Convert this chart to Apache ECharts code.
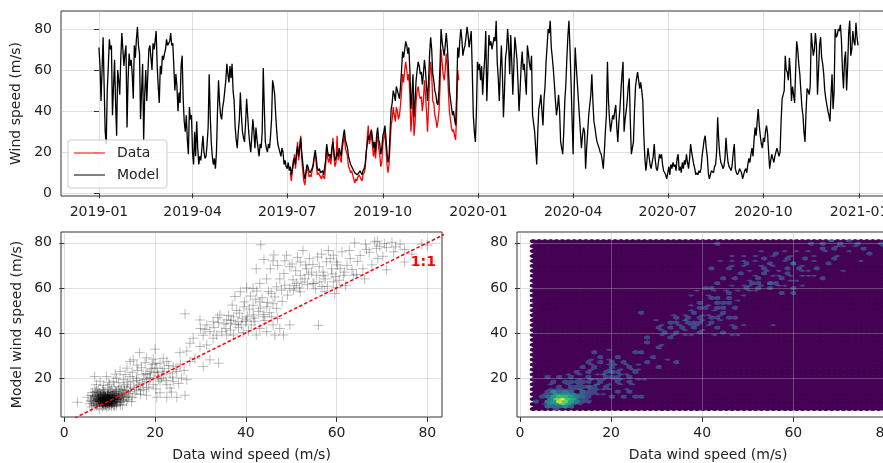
<!DOCTYPE html>
<html><head><meta charset="utf-8">
<script src="https://cdn.jsdelivr.net/npm/echarts@6/dist/echarts.min.js"></script>
<style>html,body{margin:0;padding:0;background:#fff;overflow:hidden}#c{width:900px;height:463px}</style>
</head><body><div id="c"></div>
<script>
// ---------------- DATA ----------------
const seriesStart = '2019-01-01';
const model2019 = [
 71,62,45,60,76,52,30,24,50,62,75,70,72,38,52,65,44,28,60,55,48,66,78,70,62,68,72,32,55,68,62,
 65,58,46,72,66,75,81,72,68,36,50,63,26,48,60,45,58,70,72,66,60,73,70,74,79,62,52,44,
 62,58,67,65,68,70,75,72,73,74,78,72,73,62,50,58,52,40,49,44,62,67,46,35,30,38,26,19,42,36,38,
 20,14,30,18,35,22,14,18,16,22,28,20,17,18,24,32,58,38,25,18,14,17,12,20,40,55,44,38,36,42,
 45,50,55,63,58,54,62,56,63,50,45,32,26,22,30,36,49,38,30,27,25,34,46,38,30,24,20,28,36,30,22,
 32,26,22,18,24,22,30,61,42,25,22,20,24,22,28,36,55,52,48,38,30,24,22,20,18,22,20,14,16,13,
 12,15,11,13,9,12,16,17,14,20,23,18,22,27,20,15,10,7,10,14,13,11,10,10,12,14,18,21,17,12,11,
 12,10,10,11,9,9,16,24,20,18,19,17,22,25,20,16,17,20,18,22,20,18,24,28,31,26,24,22,18,16,14,
 14,12,11,10,10,9,9,10,11,10,9,11,12,14,20,24,28,26,29,31,27,22,25,20,28,32,26,24,19,22,
 28,30,33,27,20,15,18,30,41,44,50,48,45,52,50,48,46,52,60,69,66,70,74,72,68,71,60,41,48,58,37,
 45,55,60,64,62,58,59,53,58,65,60,52,45,55,68,76,70,58,55,50,48,44,43,50,62,80,74,70,67,72,
 78,72,62,50,46,42,38,40,36,33,48,71,66,74,80,75,67,70,72,76,81,77,71,75,79,60,38,30,25,40,64
];
const model2020 = [
 60,63,55,62,48,58,66,79,45,60,77,72,74,70,73,76,74,84,64,56,45,60,72,58,37,50,66,70,80,72,58,
 77,64,48,62,76,71,65,54,40,50,62,69,60,63,55,48,72,68,63,60,67,38,34,30,22,14,30,41,44,
 48,40,33,46,52,64,72,80,78,84,71,66,60,53,45,38,42,48,40,25,22,19,30,45,53,66,77,84,70,54,36,
 19,50,71,62,54,46,38,30,22,28,32,30,12,22,30,38,38,48,58,45,35,32,28,25,25,22,20,19,16,12,
 20,30,38,64,45,36,30,34,38,36,40,43,32,25,35,41,50,58,64,30,36,40,45,52,56,35,19,22,25,40,52,
 56,59,55,51,54,50,45,28,17,11,16,22,18,14,12,12,18,24,16,12,11,15,19,17,19,14,11,11,9,7,
 10,13,9,14,12,15,13,14,11,17,19,11,13,10,15,12,16,14,19,15,12,17,24,20,17,14,12,9,10,9,11,
 10,12,18,22,26,28,22,18,10,7,9,11,11,10,13,14,20,37,26,19,15,14,12,13,17,27,20,15,13,12,11,
 14,20,24,12,10,9,10,12,11,10,7,9,11,12,10,14,17,15,19,22,18,26,32,28,35,41,33,28,24,22,
 27,25,30,33,29,20,12,16,19,17,15,18,20,22,20,18,20,35,46,48,50,67,60,59,55,66,58,45,52,48,44,
 60,74,70,63,58,50,42,38,30,25,40,51,50,48,52,78,72,67,70,78,72,48,60,72,76,66,63,58,50,46,
 43,40,38,35,48,58,41,50,80,76,77,80,79,82,75,60,51,65,69,50,62,78,84,67,70,79,74,72,83,76,72
];
const dataStart = '2019-07-04';
const dataValues = [
 10,6,11,14,19,12,18,25,16,21,28,17,11,6,4,9,13,11,8,9,8,11,13,17,20,14,9,10,
 10,8,7,9,8,7,14,23,17,15,18,14,20,27,18,13,15,28,16,20,17,15,22,25,28,22,20,18,13,12,10,
 11,9,7,5,7,6,8,9,8,7,6,9,10,12,19,27,33,24,26,29,23,18,22,17,25,28,22,19,13,15,
 24,27,30,22,14,10,14,24,33,36,42,38,35,42,40,36,38,43,50,58,54,60,64,60,55,58,48,30,38,47,28,
 34,45,50,52,48,46,47,40,45,55,48,40,30,42,56,64,58,45,44,38,36,32,35,40,52,70,64,58,55,60,
 68,62,50,40,36,32,30,31,28,26,38,60,55
];
const timeTickLabels = ['2019-01','2019-04','2019-07','2019-10','2020-01','2020-04','2020-07','2020-10','2021-01'];
const topSpeedTicks = [0,20,40,60,80];
const speedTicks = [0,20,40,60,80];
const modelSpeedTicks = [20,40,60,80];
// [data wind speed, model wind speed]
const obsVsModel = [
 [9.3,10.4],[9.6,10.6],[9.5,10.2],[9.8,10.8],[9.2,10.7],[9.7,10.3],[9.4,10.9],
 [8.6,10.0],[8.9,9.6],[8.4,10.5],[8.8,11.0],[10.3,10.2],[10.6,10.9],[10.1,11.3],[10.4,9.8],
 [9.0,9.2],[9.9,9.4],[8.3,9.1],[10.8,9.6],[11.2,10.4],[11.0,11.5],[9.6,11.8],[8.7,12.0],[10.3,12.2],
 [7.8,9.8],[7.6,10.8],[8.0,8.6],[9.2,8.4],[10.4,8.7],[11.5,9.2],[12.0,10.8],[11.8,12.2],[7.4,11.7],[8.2,12.8],[9.8,12.9],[10.9,13.1],
 [7.0,9.0],[6.8,10.2],[7.3,8.2],[8.6,7.8],[9.7,7.6],[11.0,8.2],[12.4,9.6],[12.6,11.6],[12.2,13.4],[11.3,14.0],[9.0,13.6],[7.9,13.2],[6.6,11.8],[6.4,8.8],
 [10.0,10.0],[9.1,11.5],[8.1,11.4],[10.9,12.0],[11.6,11.0],[8.5,9.0],[12.9,12.6],[13.2,11.2],[13.4,13.8],[7.2,12.6],
 [2.9,9.3],[5.2,11.5],[5.6,8.6],[7.1,7.8],[6.0,7.2],[5.8,10.0],[6.2,13.6],[6.7,15.2],[7.5,14.6],[8.6,14.9],[9.5,15.6],[10.4,14.8],[11.5,14.1],[12.6,15.0],[13.8,14.6],
 [14.5,14.1],[14.2,12.0],[15.0,11.4],[15.6,13.0],[13.7,9.8],[12.8,8.0],[14.8,9.6],[15.9,14.9],[17.4,14.9],[18.1,15.6],[16.4,16.6],[12.3,15.6],[13.8,17.1],[10.0,17.1],[7.9,18.6],
 [6.7,20.7],[7.1,17.1],[9.3,20.7],[8.6,16.8],[10.8,18.6],[11.5,20.0],[13.0,19.3],[14.5,20.7],[15.2,18.6],[16.6,17.1],[12.3,23.0],[13.8,24.4],[14.5,27.3],[11.0,16.2],[9.8,18.0],
 [20.0,32.8],[15.2,28.1],[16.6,31.3],[18.1,29.0],[21.1,26.6],[22.6,27.3],[24.0,25.0],[18.9,23.0],[20.4,24.4],[21.9,21.5],[23.3,22.2],[17.4,21.5],[15.9,20.0],[18.1,18.6],[19.6,17.1],
 [21.1,18.6],[22.6,17.1],[24.0,18.6],[25.8,20.0],[27.0,19.3],[23.3,15.6],[24.8,22.9],[20.4,11.5],[22.6,11.5],[24.8,11.5],[26.6,12.4],[21.1,13.5],[18.1,12.4],[19.0,20.2],[20.6,21.0],
 [17.0,24.6],[19.4,26.0],[16.2,23.4],[18.6,16.0],[20.2,15.2],[17.6,19.4],[22.0,24.2],[20.8,19.6],[16.8,14.4],[19.8,22.6],[21.6,23.0],[23.8,20.4],[25.2,17.6],[18.4,21.8],[20.0,26.6],
 [25.5,31.3],[27.0,32.0],[28.8,28.8],[30.6,25.1],[32.1,28.1],[34.0,26.6],[27.7,27.4],[26.6,48.5],[29.9,45.8],[31.4,43.6],[32.8,45.0],[34.3,48.0],[32.1,40.6],[30.6,39.0],[33.6,39.0],
 [34.7,40.6],[32.8,37.7],[28.4,37.7],[27.7,35.5],[29.9,34.0],[31.4,34.7],[35.8,39.1],[36.6,41.3],[30.0,42.0],[35.2,44.0],
 [38.8,58.3],[37.6,56.2],[39.7,53.8],[41.6,52.3],[43.1,53.8],[44.6,51.6],[46.0,53.0],[46.8,50.9],[45.7,47.2],[43.8,47.2],[41.6,48.0],[40.1,45.8],[38.3,45.0],[37.3,47.2],[35.8,45.8],
 [36.6,44.3],[39.0,43.6],[41.2,43.6],[43.1,42.0],[44.6,40.6],[42.3,39.1],[46.0,43.6],[47.5,42.0],[48.3,39.1],[49.7,43.6],[46.4,39.1],[37.3,39.1],[40.0,45.0],[39.2,46.6],[42.0,45.2],
 [40.6,41.0],[38.0,50.0],[40.8,50.6],[42.8,49.6],[44.2,45.6],[45.2,49.0],[36.2,47.8],[39.4,40.2],[47.0,46.4],[43.6,55.6],[41.0,56.4],[40.2,60.0],[42.4,58.6],[37.0,52.4],[56.0,43.4],
 [43.3,79.1],[45.4,68.5],[42.3,68.5],[44.6,64.0],[43.1,62.0],[41.6,59.8],[47.5,64.0],[46.8,60.5],[47.9,59.0],[46.0,72.0],[46.2,74.6],[44.0,72.6],[48.4,66.4],[45.6,57.6],[49.0,74.5],
 [49.7,69.4],[52.0,71.5],[54.0,73.0],[55.8,73.7],[53.4,68.5],[52.0,65.6],[53.0,64.0],[54.5,67.0],[51.2,62.0],[49.7,59.8],[48.6,61.2],[50.5,59.0],[52.0,58.3],[50.4,63.6],[51.0,67.6],
 [49.2,56.8],[48.0,54.0],[50.8,61.0],[53.6,61.4],[55.0,62.0],[52.6,76.6],[54.8,70.4],[50.2,70.6],[47.0,70.0],[51.8,60.0],
 [64.0,80.0],[66.4,79.4],[68.4,80.4],[69.5,78.5],[66.6,77.0],[71.0,78.0],[72.2,80.3],[74.0,79.4],[75.0,77.0],[72.6,76.0],[69.1,73.0],[71.0,68.0],[75.0,71.5],[78.8,79.4],[80.0,79.0],
 [66.2,64.0],[63.0,73.0],[63.7,65.6],[65.8,68.5],[62.3,70.0],[59.3,74.5],[58.2,76.6],[56.7,75.0],[60.0,71.5],[60.8,68.5],[58.9,68.5],[61.5,65.6],[57.5,64.0],[55.6,65.6],[56.3,62.7],
 [59.3,62.7],[59.6,57.5],[57.4,58.3],[54.8,62.0],[60.2,70.2],[59.0,66.2],[58.0,60.8],[60.6,63.4],[62.0,61.0],[57.0,67.0],[61.2,76.0],[67.8,70.2],[70.2,74.0],[76.6,75.0],[64.6,71.8],
 [7.8,6.3],[69.0,80.7]
];
// additional observation/model pairs: dense low-wind core and extra cloud points
const obsVsModelCore = [
 [9.3,10.4],[9.4,10.5],[9.5,10.6],[9.6,10.5],[9.7,10.7],[9.5,10.8],[9.4,10.3],[9.6,10.3],[9.8,10.6],
 [9.3,10.7],[9.5,10.4],[9.6,10.9],[9.4,10.8],[9.7,10.4],[9.2,10.6],[9.9,10.5],[9.5,10.5],[9.6,10.6],
 [9.0,9.7],[9.1,9.8],[8.9,9.9],[9.2,9.6],[9.0,9.9],[9.1,9.6],[8.8,9.8],[9.2,9.9],[9.0,9.6],[9.1,9.7],[8.9,9.7],[9.3,9.8],
 [10.0,9.7],[10.2,9.8],[10.1,9.9],[10.3,9.7],[10.0,9.9],[10.1,9.6],[10.2,9.7],[9.9,9.8],[10.4,9.8],
 [10.6,10.6],[10.5,10.7],[10.7,10.5],[10.8,10.7],[10.6,10.4],[10.5,10.5],[10.7,10.8],
 [8.5,10.6],[8.6,10.7],[8.4,10.5],[8.6,10.4],[8.7,10.8],[8.5,10.8],[8.3,10.7],[8.6,10.6],
 [9.0,11.4],[9.1,11.6],[8.9,11.5],[9.2,11.3],[9.0,11.7],[10.1,11.4],[10.0,11.6],[10.2,11.5],[10.3,11.3],
 [9.5,8.9],[9.6,8.8],[9.7,9.0],[9.4,9.1],[9.6,8.7],[9.5,12.3],[9.7,12.4],[9.6,12.2],
 [8.0,9.7],[8.1,9.9],[7.9,9.6],[8.2,9.8],[8.0,10.0],[7.8,9.8],[11.1,9.8],[11.2,9.6],[11.0,9.9],[11.3,9.7],
 [7.5,10.6],[7.6,10.5],[7.4,10.7],[7.7,10.8],[11.6,10.6],[11.7,10.5],[11.5,10.8],
 [8.5,8.9],[8.6,8.8],[8.4,9.0],[8.7,8.7],[10.6,8.9],[10.5,8.8],[10.7,9.0],
 [8.0,11.5],[8.1,11.4],[7.9,11.6],[11.1,11.5],[11.2,11.4],[11.0,11.6],
 [8.5,12.4],[8.6,12.3],[10.6,12.3],[10.7,12.4],[9.0,8.0],[9.1,8.1],[9.2,7.9],[10.1,8.0],[10.0,8.2],
 [6.5,9.5],[6.8,11.2],[7.0,12.0],[7.2,10.0],[7.0,8.4],[7.6,7.6],[8.2,8.0],[8.8,8.3],[9.9,8.2],[10.8,8.0],
 [11.6,8.6],[12.2,9.2],[12.5,10.4],[12.3,11.8],[12.0,12.6],[11.5,13.2],[10.6,13.6],[9.8,13.8],[8.8,13.2],[8.0,12.4],
 [7.4,12.9],[6.9,13.8],[6.2,10.8],[6.0,9.6],[5.9,12.4],[13.0,10.0],[13.6,11.6],[12.8,13.0],[13.2,14.6],[11.9,14.8],
 [10.2,14.2],[8.4,14.2],[7.2,14.0],[6.6,7.8],[8.4,7.4],[10.4,7.6],[11.4,7.8],[12.4,8.2],[14.0,10.6],[14.2,13.2],
 [8.8,12.6],[10.0,12.8],[11.2,12.6],[7.6,11.2],[12.0,11.2],[11.0,7.4],[9.4,7.2],[13.0,12.2],[7.8,13.6],[6.4,12.2]
];
const obsVsModelExtra = [
 [13.2,16.4],[14.0,18.2],[15.4,15.6],[16.0,19.0],[17.2,17.8],[18.8,19.8],[19.2,24.2],[20.6,22.4],[21.4,20.0],[22.4,19.0],[23.0,25.6],[24.6,24.0],[17.8,26.8],
 [16.0,25.8],[15.0,22.6],[13.4,21.6],[12.0,18.0],[11.2,21.8],[19.6,28.4],[21.8,28.8],[25.6,26.2],[26.4,23.4],[23.6,13.8],[16.8,12.8],[14.6,16.0],[18.0,22.0],
 [33.0,42.4],[34.0,44.6],[35.6,42.0],[36.8,45.6],[38.4,42.4],[38.6,48.8],[41.8,46.6],[43.2,51.0],[44.8,53.6],[46.4,56.0],[45.0,58.4],[42.2,55.0],[39.6,51.6],
 [37.8,43.8],[40.4,47.4],[44.0,48.2],[33.8,46.8],[31.0,41.6],
 [48.6,72.0],[51.4,73.6],[53.2,70.2],[56.2,69.4],[57.8,71.6],[58.6,73.0],[59.8,65.0],[61.8,67.0],[63.4,68.2],[64.4,66.0],[62.8,76.6],[65.2,74.4],[67.2,75.8],
 [68.8,77.4],[70.6,79.6],[73.0,78.2],[55.4,59.6],[53.8,66.0],[52.4,62.6],[56.8,60.6],[60.0,60.2],[57.2,65.4]
];
const oneToOne = [[0,0],[90,90]];
const hexGridSize = 60;

// ---------------- HELPERS ----------------
const FONT = 'DejaVu Sans';
const TXT = '#222';
const DAY = 86400000;
const t0 = Date.parse(seriesStart + 'T00:00:00Z');
const dayIndex = s => Math.round((Date.parse(s + 'T00:00:00Z') - t0) / DAY);
const modelValues = model2019.concat(model2020);
const modelSeries = modelValues.map((v, i) => [i, v]);
const d0 = dayIndex(dataStart);
const dataSeries = dataValues.map((v, i) => [d0 + i, v]);
const timeTickDays = timeTickLabels.map(l => dayIndex(l + '-01'));
const lastDay = modelValues.length - 1;
const fmtDay = v => { const d = new Date(t0 + Math.round(v) * DAY); return d.getUTCFullYear() + '-' + String(d.getUTCMonth() + 1).padStart(2, '0'); };
const pairs = obsVsModel.concat(obsVsModelCore, obsVsModelExtra);

// hexbin (matplotlib lattice algorithm, log-scaled colours)
const hx = pairs.map(p => p[0]), hy = pairs.map(p => p[1]);
let xmin = Math.min(...hx), xmax = Math.max(...hx), ymin = Math.min(...hy), ymax = Math.max(...hy);
const nx = hexGridSize, ny = Math.floor(nx / Math.sqrt(3));
const padx = 1e-9 * (xmax - xmin); xmin -= padx; xmax += padx;
const sx = (xmax - xmin) / nx, sy = (ymax - ymin) / ny;
const nx1 = nx + 1, ny1 = ny + 1, nx2 = nx, ny2 = ny;
const c1 = new Array(nx1 * ny1).fill(0), c2 = new Array(nx2 * ny2).fill(0);
pairs.forEach(([px, py]) => {
  const x = (px - xmin) / sx, y = (py - ymin) / sy;
  const ix1 = Math.round(x), iy1 = Math.round(y), ix2 = Math.floor(x), iy2 = Math.floor(y);
  const dd1 = (x - ix1) ** 2 + 3 * (y - iy1) ** 2;
  const dd2 = (x - ix2 - 0.5) ** 2 + 3 * (y - iy2 - 0.5) ** 2;
  if (dd1 < dd2) c1[ix1 * ny1 + iy1]++; else c2[Math.min(ix2, nx2 - 1) * ny2 + Math.min(iy2, ny2 - 1)]++;
});
const hexCells = [];
for (let i = 0; i < nx1; i++) for (let j = 0; j < ny1; j++) hexCells.push([xmin + i * sx, ymin + j * sy, c1[i * ny1 + j]]);
for (let i = 0; i < nx2; i++) for (let j = 0; j < ny2; j++) hexCells.push([xmin + (i + 0.5) * sx, ymin + (j + 0.5) * sy, c2[i * ny2 + j]]);
const vmaxLog = Math.log10(Math.max(...hexCells.map(c => c[2])) + 1);
const viridis = ['#440154','#482475','#414487','#355f8d','#2a788e','#21918c','#22a884','#44bf70','#7ad151','#bddf26','#fde725'];
function cmap(t) {
  t = Math.max(0, Math.min(1, t));
  const f = t * (viridis.length - 1), i = Math.min(Math.floor(f), viridis.length - 2), r = f - i;
  const a = viridis[i], b = viridis[i + 1];
  const ch = (h, k) => parseInt(h.substr(1 + 2 * k, 2), 16);
  const c = [0, 1, 2].map(k => Math.round(ch(a, k) + (ch(b, k) - ch(a, k)) * r));
  return 'rgb(' + c.join(',') + ')';
}
const hexOff = [[.5, -.5], [.5, .5], [0, 1], [-.5, .5], [-.5, -.5], [0, -1]];
const lineIcon = 'path://M0,0L0.01,0L0,0.01Z M0,6.4L31,6.4L31,7.6L0,7.6Z M31,14L30.99,14L31,13.99Z';

// ---------------- CHART ----------------
const grids = [
  { left: 61, top: 11, width: 835, height: 185 },
  { left: 61, top: 232, width: 381, height: 186 },
  { left: 517, top: 232, width: 382, height: 186 }
].map(g => Object.assign(g, { show: true, borderColor: '#333', borderWidth: 1, backgroundColor: 'transparent' }));

const gridLine = { show: true, lineStyle: { color: 'rgba(176,176,176,0.4)', width: 1 } };
const tick = vals => ({ show: true, inside: false, length: 5, lineStyle: { color: '#333' }, customValues: vals });
const lab = (vals, fmt) => ({ show: true, customValues: vals, fontFamily: FONT, fontSize: 14, color: TXT, margin: 9, formatter: fmt });
const nameStyle = { fontFamily: FONT, fontSize: 14, color: TXT };

const option = {
  animation: false,
  grid: grids,
  legend: {
    orient: 'vertical', left: 68, top: 140,
    data: [{ name: 'Data', icon: lineIcon }, { name: 'Model', icon: lineIcon }],
    itemWidth: 31, itemHeight: 14, itemGap: 8,
    textStyle: { fontFamily: FONT, fontSize: 14, color: TXT, padding: [0, 0, 0, 7] },
    backgroundColor: 'rgba(255,255,255,0.8)', borderColor: '#cccccc', borderWidth: 1, borderRadius: 3,
    padding: [6, 8, 6, 6]
  },
  xAxis: [
    { gridIndex: 0, type: 'value', min: -0.05 * lastDay, max: lastDay * 1.05,
      axisLine: { show: false }, axisTick: tick(timeTickDays), axisLabel: lab(timeTickDays, fmtDay), splitLine: gridLine },
    { gridIndex: 1, type: 'value', min: -0.73, max: 83.24,
      axisLine: { show: false }, axisTick: tick(speedTicks), axisLabel: lab(speedTicks), splitLine: gridLine,
      name: 'Data wind speed (m/s)', nameLocation: 'middle', nameGap: 31, nameTextStyle: nameStyle },
    { gridIndex: 2, type: 'value', min: -0.66, max: 83.2,
      axisLine: { show: false }, axisTick: tick(speedTicks), axisLabel: lab(speedTicks), splitLine: gridLine,
      name: 'Data wind speed (m/s)', nameLocation: 'middle', nameGap: 31, nameTextStyle: nameStyle }
  ],
  yAxis: [
    { gridIndex: 0, type: 'value', min: -1.32, max: 88.75,
      axisLine: { show: false }, axisTick: tick(topSpeedTicks), axisLabel: lab(topSpeedTicks), splitLine: gridLine,
      name: 'Wind speed (m/s)', nameLocation: 'middle', nameGap: 37, nameTextStyle: nameStyle },
    { gridIndex: 1, type: 'value', min: 2.75, max: 84.8,
      axisLine: { show: false }, axisTick: tick(modelSpeedTicks), axisLabel: lab(modelSpeedTicks), splitLine: gridLine,
      name: 'Model wind speed (m/s)', nameLocation: 'middle', nameGap: 37, nameTextStyle: nameStyle },
    { gridIndex: 2, type: 'value', min: 2.75, max: 84.8,
      axisLine: { show: false }, axisTick: tick(modelSpeedTicks), axisLabel: lab(modelSpeedTicks), splitLine: gridLine }
  ],
  series: [
    { name: 'Data', type: 'line', xAxisIndex: 0, yAxisIndex: 0, data: dataSeries, symbol: 'none', showSymbol: false,
      lineStyle: { color: '#ff0000', width: 1.3 }, itemStyle: { color: '#ff0000' }, z: 2 },
    { name: 'Model', type: 'line', xAxisIndex: 0, yAxisIndex: 0, data: modelSeries, symbol: 'none', showSymbol: false,
      lineStyle: { color: '#000000', width: 1.3 }, itemStyle: { color: '#000000' }, z: 3 },
    { type: 'scatter', xAxisIndex: 1, yAxisIndex: 1, data: pairs,
      symbol: 'path://M0,5L10,5M5,0L5,10', symbolSize: 10,
      itemStyle: { color: 'transparent', borderColor: 'rgba(0,0,0,0.32)', borderWidth: 1 }, z: 2, silent: true },
    { type: 'line', xAxisIndex: 1, yAxisIndex: 1, data: oneToOne, symbol: 'none', showSymbol: false,
      lineStyle: { color: '#ff0000', width: 1.5, type: [3.5, 2.2] }, z: 4, silent: true,
      markPoint: { symbol: 'circle', symbolSize: 0, silent: true,
        data: [{ coord: [81.9, 71.2], label: { show: true, formatter: '1:1', position: [0, 0], align: 'right', verticalAlign: 'middle',
          color: '#ff0000', fontWeight: 'bold', fontFamily: FONT, fontSize: 14 } }] } },
    { type: 'custom', xAxisIndex: 2, yAxisIndex: 2, data: hexCells, z: -1, progressive: 0, silent: true,
      renderItem: (params, api) => {
        const cx = api.value(0), cy = api.value(1), n = api.value(2);
        const pts = hexOff.map(o => api.coord([cx + o[0] * sx, cy + o[1] * sy / 3]));
        const col = cmap(Math.log10(n + 1) / vmaxLog);
        return { type: 'polygon', shape: { points: pts }, style: { fill: col, stroke: col, lineWidth: 1 } };
      } }
  ]
};
const chart = echarts.init(document.getElementById('c'));
chart.setOption(option);
</script>
</body></html>
